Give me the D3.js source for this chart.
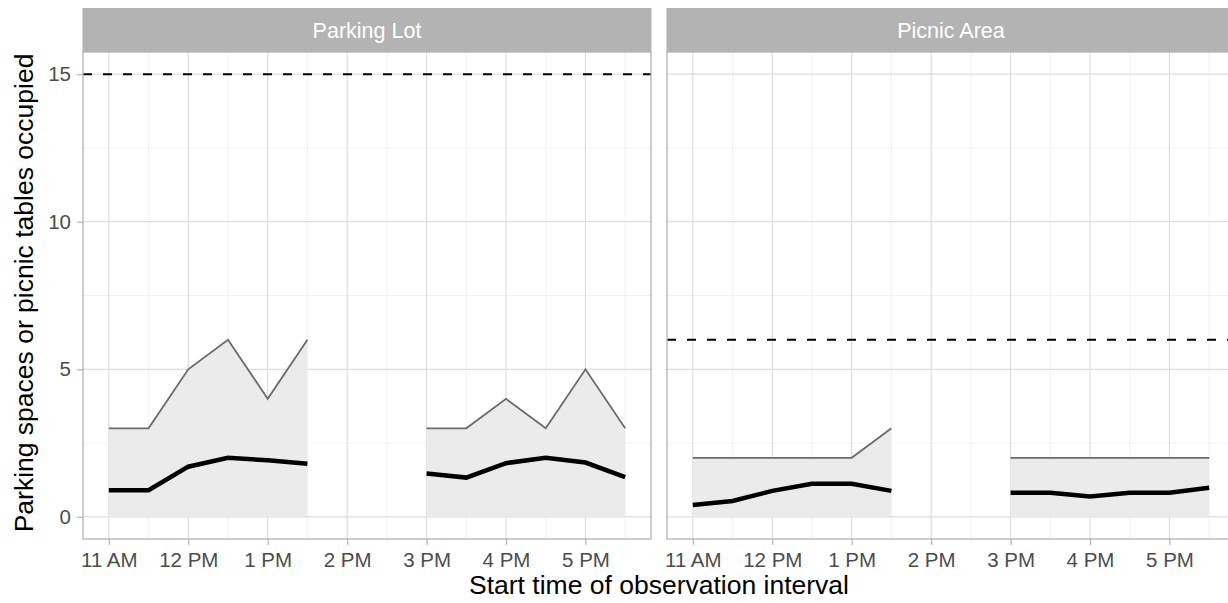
<!DOCTYPE html>
<html>
  <head>
    <script src="https://d3js.org/d3.v7.min.js"></script>
    <style>
      body { margin: 0; background: #fff; }
      text { font-family: "Liberation Sans", Arial, sans-serif; }
    </style>
  </head>
  <body>
    <svg id="chart" width="1228" height="603"></svg>
    <script>
      // half-hour observation intervals (start time)
      var times = ["11:00", "11:30", "12:00", "12:30", "13:00", "13:30", "14:00",
                   "14:30", "15:00", "15:30", "16:00", "16:30", "17:00", "17:30"];

      var facets = ["Parking Lot", "Picnic Area"];
      var capacity = [15, 6];

      // null = no observation in that interval
      var parkingMax  = [3, 3, 5, 6, 4, 6, null, null, 3, 3, 4, 3, 5, 3];
      var parkingMean = [0.9, 0.9, 1.7, 2.0, 1.92, 1.8, null, null, 1.47, 1.33, 1.82, 2.0, 1.84, 1.35];
      var picnicMax   = [2, 2, 2, 2, 2, 3, null, null, 2, 2, 2, 2, 2, 2];
      var picnicMean  = [0.4, 0.54, 0.88, 1.12, 1.12, 0.88, null, null, 0.82, 0.82, 0.69, 0.82, 0.82, 0.99];

      var yTicks = [0, 5, 10, 15];
      var yMinor = [2.5, 7.5, 12.5];

      var parseT = d3.timeParse("%H:%M");
      var dates = times.map(parseT);

      function rows(maxV, meanV) {
        return dates.map(function(d, i) { return {t: d, max: maxV[i], mean: meanV[i]}; });
      }
      var series = [rows(parkingMax, parkingMean), rows(picnicMax, picnicMean)];

      var svg = d3.select("#chart");
      var panelW = 568, panelTop = 52, panelBottom = 539, stripTop = 8;
      var panelLeft = [83, 667];
      var tickFont = 20.5;

      // ggplot-style 5% expansion
      var t0 = dates[0], t1 = dates[dates.length - 1];
      var span = t1 - t0;
      var y = d3.scaleLinear().domain([-0.75, 15.75]).range([panelBottom, panelTop]);

      var hourTicks = d3.timeHour.every(1).range(parseT("11:00"), parseT("17:01"));
      var halfTicks = d3.timeMinute.every(30).range(parseT("11:00"), parseT("17:31"))
        .filter(function(d) { return d.getMinutes() === 30; });
      var fmt = d3.timeFormat("%-I %p");

      facets.forEach(function(name, k) {
        var x = d3.scaleTime()
          .domain([new Date(+t0 - span * 0.05), new Date(+t1 + span * 0.05)])
          .range([panelLeft[k], panelLeft[k] + panelW]);
        var g = svg.append("g");

        // grid
        g.selectAll(".ymin").data(yMinor).enter().append("line")
          .attr("x1", x.range()[0]).attr("x2", x.range()[1])
          .attr("y1", function(d) { return y(d); }).attr("y2", function(d) { return y(d); })
          .attr("stroke", "#ededed").attr("stroke-width", 0.7);
        g.selectAll(".xmin").data(halfTicks).enter().append("line")
          .attr("x1", function(d) { return x(d); }).attr("x2", function(d) { return x(d); })
          .attr("y1", panelTop).attr("y2", panelBottom)
          .attr("stroke", "#ededed").attr("stroke-width", 0.7);
        g.selectAll(".ymaj").data(yTicks).enter().append("line")
          .attr("x1", x.range()[0]).attr("x2", x.range()[1])
          .attr("y1", function(d) { return y(d); }).attr("y2", function(d) { return y(d); })
          .attr("stroke", "#dedede").attr("stroke-width", 1.2);
        g.selectAll(".xmaj").data(hourTicks).enter().append("line")
          .attr("x1", function(d) { return x(d); }).attr("x2", function(d) { return x(d); })
          .attr("y1", panelTop).attr("y2", panelBottom)
          .attr("stroke", "#dedede").attr("stroke-width", 1.2);

        var data = series[k];
        var ok = function(d) { return d.max != null; };

        g.append("path").datum(data)
          .attr("d", d3.area().defined(ok)
            .x(function(d) { return x(d.t); }).y0(y(0)).y1(function(d) { return y(d.max); }))
          .attr("fill", "#ebebeb");

        g.append("line")
          .attr("x1", x.range()[0]).attr("x2", x.range()[1])
          .attr("y1", y(capacity[k])).attr("y2", y(capacity[k]))
          .attr("stroke", "#000").attr("stroke-width", 2).attr("stroke-dasharray", "9,11");

        g.append("path").datum(data)
          .attr("d", d3.line().defined(ok)
            .x(function(d) { return x(d.t); }).y(function(d) { return y(d.max); }))
          .attr("fill", "none").attr("stroke", "#6b6b6b").attr("stroke-width", 1.8);

        g.append("path").datum(data)
          .attr("d", d3.line().defined(ok)
            .x(function(d) { return x(d.t); }).y(function(d) { return y(d.mean); }))
          .attr("fill", "none").attr("stroke", "#000").attr("stroke-width", 4.5);

        // panel border
        g.append("rect")
          .attr("x", panelLeft[k]).attr("y", panelTop)
          .attr("width", panelW).attr("height", panelBottom - panelTop)
          .attr("fill", "none").attr("stroke", "#b3b3b3").attr("stroke-width", 1.3);

        // strip
        g.append("rect")
          .attr("x", panelLeft[k] - 0.5).attr("y", stripTop)
          .attr("width", panelW + 1).attr("height", panelTop - stripTop)
          .attr("fill", "#b3b3b3");
        g.append("text")
          .attr("x", panelLeft[k] + panelW / 2).attr("y", 38)
          .attr("text-anchor", "middle").attr("fill", "#fff").attr("font-size", 21.5)
          .text(name);

        // x axis
        var xa = g.append("g").attr("transform", "translate(0," + panelBottom + ")")
          .call(d3.axisBottom(x).tickValues(hourTicks).tickFormat(fmt).tickSize(6).tickPadding(7));
        xa.select(".domain").remove();
        xa.selectAll(".tick line").attr("stroke", "#b3b3b3").attr("stroke-width", 1.2);
        xa.selectAll(".tick text").attr("fill", "#4d4d4d").attr("font-size", tickFont)
          .attr("font-family", "Liberation Sans, Arial, sans-serif");

        if (k === 0) {
          var ya = g.append("g").attr("transform", "translate(" + panelLeft[0] + ",0)")
            .call(d3.axisLeft(y).tickValues(yTicks).tickSize(6).tickPadding(6));
          ya.select(".domain").remove();
          ya.selectAll(".tick line").attr("stroke", "#b3b3b3").attr("stroke-width", 1.2);
          ya.selectAll(".tick text").attr("fill", "#4d4d4d").attr("font-size", tickFont)
            .attr("font-family", "Liberation Sans, Arial, sans-serif");
        }
      });

      svg.append("text")
        .attr("x", 659).attr("y", 594)
        .attr("text-anchor", "middle").attr("font-size", 26.5).attr("fill", "#000")
        .text("Start time of observation interval");

      svg.append("text")
        .attr("transform", "translate(33," + 293 + ") rotate(-90)")
        .attr("text-anchor", "middle").attr("font-size", 26.5).attr("fill", "#000")
        .text("Parking spaces or picnic tables occupied");
    </script>
  </body>
</html>
